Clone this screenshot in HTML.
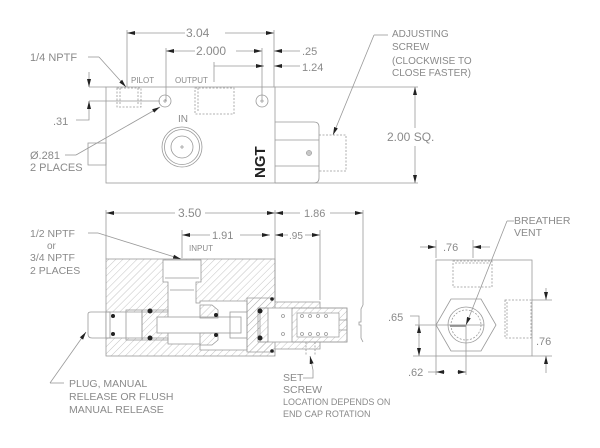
<!DOCTYPE html>
<html><head><meta charset="utf-8"><style>
html,body{margin:0;padding:0;background:#fff;}
svg{display:block}
text{font-family:"Liberation Sans",sans-serif;fill:#8a8a8a;}
.s{fill:none;stroke:#999;stroke-width:0.8}
.d{fill:none;stroke:#999;stroke-width:0.8;stroke-dasharray:2,1.5}
.k{fill:#222}
</style></head><body>
<svg width="600" height="448" viewBox="0 0 600 448" font-size="11">
<defs>
<pattern id="h" width="5" height="5" patternUnits="userSpaceOnUse" patternTransform="rotate(45)">
<line x1="0" y1="0" x2="0" y2="5" stroke="#aaa" stroke-width="0.7"/></pattern>
<marker id="a" markerWidth="8" markerHeight="6" refX="8" refY="3" orient="auto" markerUnits="userSpaceOnUse"><path d="M0,1 L8,3 L0,5z" fill="#222"/></marker>
</defs>

<!-- TOP VIEW -->
<rect class="s" x="106" y="87" width="169" height="96"/>
<path class="s" d="M88,143 H106 V165 H88 Z"/>
<path class="s" d="M275,122 H314 Q319,122 319,127 V178 Q319,183 314,183 H275 M275,140 H319 M275,166 H319"/>
<path class="d" d="M319,135 H346 V171 H319"/>
<circle class="s" cx="309" cy="153" r="2.5"/><circle class="s" cx="309" cy="153" r="1.2"/>
<path class="s" d="M275,87 H418 M275,183 H418"/>
<path class="d" d="M117,88 H141 V107 H117 Z M120,88 V105 M138,88 V105"/>
<path class="d" d="M195,88 H234 V114 H195 Z M198,88 V112"/>
<circle class="s" cx="165" cy="101" r="6"/><path class="s" d="M163,101h4M165,99v4"/>
<circle class="s" cx="262" cy="101" r="6"/><path class="s" d="M260,101h4M262,99v4"/>
<text x="178" y="122" font-size="10">IN</text>
<circle class="s" cx="182" cy="147" r="20"/><circle class="s" cx="182" cy="147" r="17.5"/><circle class="s" cx="182" cy="147" r="11"/>
<path class="s" d="M180,147h4M182,145v4"/>
<text transform="translate(265,178) rotate(-90)" font-size="15" font-weight="bold" style="fill:#222">NGT</text>
<text x="131" y="83" font-size="8">PILOT</text>
<text x="175" y="83" font-size="8">OUTPUT</text>
<!-- dims top -->
<path class="s" d="M127,30 V87 M166,48 V101 M262,48 V101 M274,30 V87 M214,62 V82"/>
<line class="s" x1="185" y1="33" x2="127" y2="33" marker-end="url(#a)"/>
<line class="s" x1="225" y1="33" x2="274" y2="33" marker-end="url(#a)"/>
<line class="s" x1="195" y1="51" x2="166" y2="51" marker-end="url(#a)"/>
<line class="s" x1="236" y1="51" x2="262" y2="51" marker-end="url(#a)"/>
<line class="s" x1="300" y1="51" x2="274" y2="51" marker-end="url(#a)"/>
<line class="s" x1="300" y1="66" x2="274" y2="66" marker-end="url(#a)"/>
<line class="s" x1="262" y1="66" x2="214" y2="66"/>
<line class="s" x1="262" y1="66" x2="264" y2="66" marker-end="url(#a)"/>
<text x="186" y="37" font-size="12">3.04</text>
<text x="196" y="55" font-size="12">2.000</text>
<text x="302" y="55">.25</text>
<text x="302" y="71">1.24</text>
<path class="s" d="M89,87 H106 M89,101 H160"/>
<line class="s" x1="89" y1="72" x2="89" y2="87" marker-end="url(#a)"/>
<path class="s" d="M76,120 H89 V112"/>
<line class="s" x1="89" y1="112" x2="89" y2="101" marker-end="url(#a)"/>
<text x="53" y="125">.31</text>
<text x="30" y="61">1/4 NPTF</text>
<path class="s" d="M88,57 H99"/><line class="s" x1="99" y1="57" x2="126" y2="87" marker-end="url(#a)"/>
<text x="30" y="159">Ø.281</text>
<text x="30" y="171">2 PLACES</text>
<path class="s" d="M65,155 H76"/><line class="s" x1="76" y1="155" x2="160" y2="107" marker-end="url(#a)"/>
<text x="392" y="37" font-size="10">ADJUSTING</text>
<text x="392" y="50" font-size="10">SCREW</text>
<text x="392" y="64" font-size="10">(CLOCKWISE TO</text>
<text x="392" y="76" font-size="10">CLOSE FASTER)</text>
<path class="s" d="M388,35 H374"/><line class="s" x1="374" y1="35" x2="333" y2="135" marker-end="url(#a)"/>
<line class="s" x1="415" y1="128" x2="415" y2="87" marker-end="url(#a)"/>
<line class="s" x1="415" y1="146" x2="415" y2="183" marker-end="url(#a)"/>
<text x="387" y="141" font-size="12">2.00 SQ.</text>

<!-- SECTION VIEW -->
<rect x="106" y="259" width="169" height="97" fill="url(#h)" stroke="#999" stroke-width="0.8"/>
<path fill="#fff" stroke="#999" stroke-width="0.8" d="M163,260 H201 V282 H196 V303 H200 V301 H247 V350 H200 V344 H168 V338 H126 V338 H106 V312 H126 V312 H168 V304 V282 H163 Z"/>
<path class="s" d="M165,278 H199 M170,290 H194"/>
<path fill="url(#h)" stroke="#999" stroke-width="0.8" d="M247,298 H275 V302 H320 V349 H275 V352 H247 Z"/>
<path fill="#fff" stroke="#999" stroke-width="0.8" d="M260,308 H347 V342 H260 Z"/>
<path fill="url(#h)" stroke="#999" stroke-width="0.8" d="M292,308 H347 V342 H292 Z"/>
<rect x="297" y="313" width="42" height="24" fill="#fff" stroke="#999" stroke-width="0.7"/>
<path class="s" d="M339,320 H347 V330 H339"/>
<g class="s"><circle cx="302" cy="316" r="1.5"/><circle cx="310" cy="316" r="1.5"/><circle cx="318" cy="316" r="1.5"/><circle cx="326" cy="316" r="1.5"/><circle cx="302" cy="334" r="1.5"/><circle cx="310" cy="334" r="1.5"/><circle cx="318" cy="334" r="1.5"/><circle cx="326" cy="334" r="1.5"/><circle cx="283" cy="316" r="1.5"/><circle cx="283" cy="334" r="1.5"/></g>
<path class="d" d="M306,342 V356 M315,342 V356"/>
<path class="s" d="M88,314 Q88,312 91,312 H110 V338 H92 Q88,338 88,334 Z"/>
<path fill="url(#h)" stroke="#999" stroke-width="0.8" d="M142,310 H168 V340 H142 Z"/>
<rect class="s" x="126" y="310" width="16" height="30"/>
<rect fill="#fff" stroke="#999" stroke-width="0.8" x="157" y="317" width="84" height="16"/>
<path fill="url(#h)" stroke="#999" stroke-width="0.8" d="M200,305 H212 L218,310 V318 H200 Z M200,333 H218 V340 L212,345 H200 Z"/>
<rect class="s" x="230" y="312" width="17" height="26"/>
<path fill="url(#h)" stroke="#999" stroke-width="0.8" d="M258,308 H268 V342 H258 Z"/>
<g class="k"><circle cx="113" cy="316" r="2"/><circle cx="113" cy="334" r="2"/><circle cx="150" cy="311" r="2.5"/><circle cx="150" cy="338" r="2.5"/><circle cx="216" cy="315" r="2"/><circle cx="216" cy="335" r="2"/><circle cx="260" cy="311" r="2.5"/><circle cx="260" cy="338" r="2.5"/><circle cx="272" cy="299" r="1.8"/><circle cx="272" cy="351" r="1.8"/></g>
<text x="189" y="251" font-size="8">INPUT</text>
<!-- dims section -->
<path class="s" d="M106,210 V259 M275,210 V298 M363,210 V305 M182,230 V258 M320,230 V300"/>
<line class="s" x1="175" y1="213" x2="106" y2="213" marker-end="url(#a)"/>
<line class="s" x1="205" y1="213" x2="275" y2="213" marker-end="url(#a)"/>
<line class="s" x1="300" y1="213" x2="275" y2="213" marker-end="url(#a)"/>
<line class="s" x1="330" y1="213" x2="363" y2="213" marker-end="url(#a)"/>
<line class="s" x1="210" y1="235" x2="182" y2="235" marker-end="url(#a)"/>
<line class="s" x1="240" y1="235" x2="270" y2="235" marker-end="url(#a)"/>
<line class="s" x1="288" y1="235" x2="275" y2="235" marker-end="url(#a)"/>
<line class="s" x1="305" y1="235" x2="320" y2="235" marker-end="url(#a)"/>
<path class="s" d="M363,305 L361,309 V322 H359 V325 H361 V338 L363,342"/>
<text x="178" y="217" font-size="12">3.50</text>
<text x="304" y="217">1.86</text>
<text x="212" y="239">1.91</text>
<text x="289" y="239" font-size="10">.95</text>
<text x="30" y="237" font-size="10.5">1/2 NPTF</text>
<text x="47" y="249" font-size="10">or</text>
<text x="30" y="261" font-size="10.5">3/4 NPTF</text>
<text x="30" y="274" font-size="10.5">2 PLACES</text>
<path class="s" d="M88,233 H98"/><line class="s" x1="98" y1="233" x2="181" y2="259" marker-end="url(#a)"/>
<text x="69" y="387" font-size="10.5">PLUG, MANUAL</text>
<text x="69" y="400" font-size="10.5">RELEASE OR FLUSH</text>
<text x="69" y="413" font-size="10.5">MANUAL RELEASE</text>
<path class="s" d="M64,383 H50"/><line class="s" x1="50" y1="383" x2="86" y2="332" marker-end="url(#a)"/>
<text x="283" y="381" font-size="10.5">SET</text>
<text x="283" y="393" font-size="10.5">SCREW</text>
<text x="283" y="405" font-size="9">LOCATION DEPENDS ON</text>
<text x="283" y="417" font-size="9">END CAP ROTATION</text>
<path class="s" d="M303,378 H313 V370"/><line class="s" x1="313" y1="370" x2="310" y2="356" marker-end="url(#a)"/>

<!-- END VIEW -->
<rect class="s" x="436" y="260" width="96" height="96"/>
<path class="d" d="M453,261 H492 V287 H453 Z M455,263 H490"/>
<path class="d" d="M505,300 H531 V338 H505 Z M507,302 V336"/>
<polygon class="s" points="451,299 481,299 496,325 481,351 451,351 436,325"/>
<circle class="s" cx="466" cy="325" r="18"/><circle class="s" cx="466" cy="325" r="15" stroke-dasharray="2,1.5"/>
<path class="s" d="M449,325 H484"/>
<path d="M450,326 H466" stroke="#888" stroke-width="1.6"/>
<text x="514" y="224" font-size="10.5">BREATHER</text>
<text x="514" y="236" font-size="10.5">VENT</text>
<path class="s" d="M514,221 H507"/><line class="s" x1="507" y1="221" x2="466" y2="325" marker-end="url(#a)"/>
<path class="s" d="M436,240 V258 M473,240 V258"/>
<line class="s" x1="420" y1="247" x2="436" y2="247" marker-end="url(#a)"/>
<line class="s" x1="490" y1="247" x2="473" y2="247" marker-end="url(#a)"/>
<text x="443" y="251">.76</text>
<path class="s" d="M415,325 H466 M413,356 H436"/>
<path class="s" d="M410,316 H419 V340"/>
<line class="s" x1="419" y1="336" x2="419" y2="325" marker-end="url(#a)"/>
<line class="s" x1="419" y1="340" x2="419" y2="356" marker-end="url(#a)"/>
<text x="388" y="321">.65</text>
<path class="s" d="M436,356 V375 M466,325 V375"/>
<path class="s" d="M428,372 H436"/>
<line class="s" x1="445" y1="372" x2="436" y2="372" marker-end="url(#a)"/>
<line class="s" x1="457" y1="372" x2="466" y2="372" marker-end="url(#a)"/>
<text x="408" y="376">.62</text>
<path class="s" d="M532,300 H552 M532,356 H552"/>
<line class="s" x1="546" y1="288" x2="546" y2="300" marker-end="url(#a)"/>
<line class="s" x1="546" y1="373" x2="546" y2="356" marker-end="url(#a)"/>
<text x="536" y="345">.76</text>
</svg>
</body></html>
